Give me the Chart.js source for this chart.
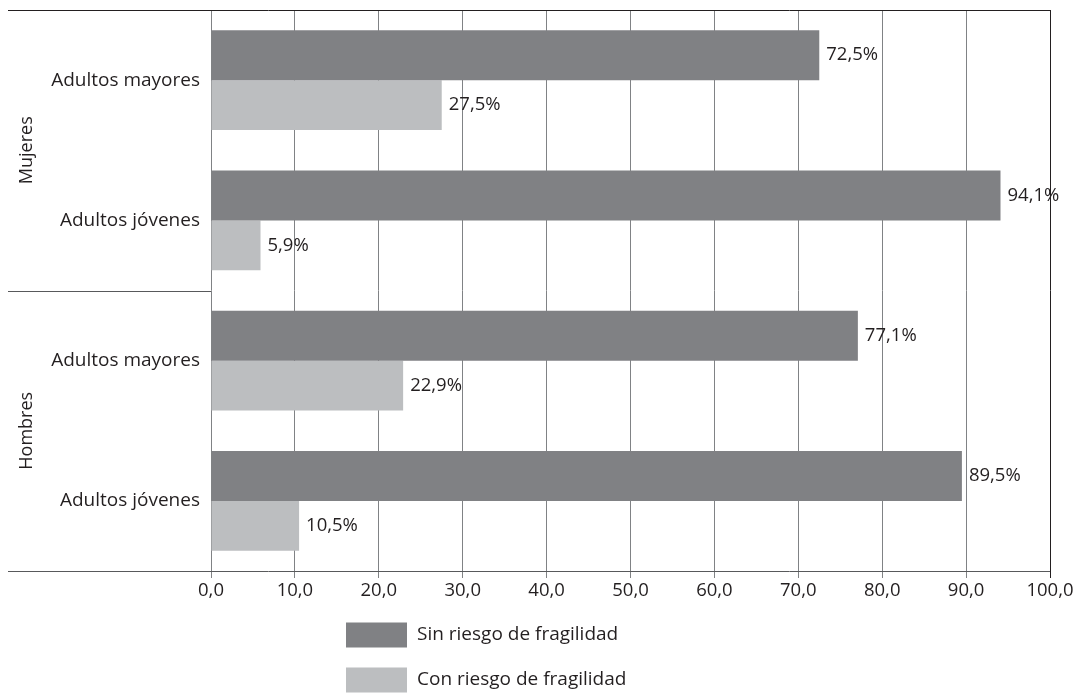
<!DOCTYPE html>
<html>
<head>
<meta charset="utf-8">
<script src="https://cdn.jsdelivr.net/npm/chart.js@4"></script>
<style>
  html, body { margin: 0; padding: 0; background: #ffffff; }
  #wrap { width: 1081px; height: 694px; position: relative; }
</style>
</head>
<body>
<div id="wrap"><canvas id="c" width="1081" height="694"></canvas></div>
<script>
const categories = ['Adultos mayores', 'Adultos jóvenes', 'Adultos mayores', 'Adultos jóvenes'];
const groups = ['Mujeres', 'Hombres'];
const seriesNames = ['Sin riesgo de fragilidad', 'Con riesgo de fragilidad'];
const sinRiesgo = [72.5, 94.1, 77.1, 89.5];
const conRiesgo = [27.5, 5.9, 22.9, 10.5];
const xTicks = [0, 10, 20, 30, 40, 50, 60, 70, 80, 90, 100];

const FONT = '"Open Sans", "Noto Sans", sans-serif';
const TEXT = '#231f20';
const DARK = '#808184';
const LIGHT = '#bcbec0';

const fmt = v => v.toFixed(1).replace('.', ',');

const decor = {
  id: 'decor',
  afterDatasetsDraw(chart) {
    const ctx = chart.ctx;
    const a = chart.chartArea;
    const y = chart.scales.y;
    ctx.save();
    // data labels
    ctx.font = '18.5px ' + FONT;
    ctx.fillStyle = TEXT;
    ctx.textAlign = 'left';
    ctx.textBaseline = 'middle';
    chart.data.datasets.forEach((ds, di) => {
      chart.getDatasetMeta(di).data.forEach((bar, i) => {
        ctx.fillText(fmt(ds.data[i]) + '%', bar.x + 7, bar.y);
      });
    });
    // frame lines
    ctx.lineWidth = 1;
    ctx.strokeStyle = '#231f20';
    ctx.beginPath();
    ctx.moveTo(8, Math.round(a.top) + 0.5);
    ctx.lineTo(a.right, Math.round(a.top) + 0.5);
    ctx.stroke();
    ctx.strokeStyle = '#58595b';
    ctx.beginPath();
    ctx.moveTo(8, Math.round(a.bottom) + 0.5);
    ctx.lineTo(a.right, Math.round(a.bottom) + 0.5);
    const mid = Math.round(y.getPixelForValue(1.5)) + 0.5;
    ctx.moveTo(8, mid);
    ctx.lineTo(a.left, mid);
    ctx.stroke();
    // group labels
    ctx.font = '18px ' + FONT;
    ctx.fillStyle = TEXT;
    ctx.textAlign = 'center';
    ctx.textBaseline = 'middle';
    groups.forEach((g, gi) => {
      const cy = y.getPixelForValue(gi * 2 + 0.5);
      ctx.save();
      ctx.translate(27, cy);
      ctx.rotate(-Math.PI / 2);
      ctx.fillText(g, 0, 0);
      ctx.restore();
    });
    // legend
    const lx = 346, lw = 61, lh = 25;
    const rows = [635, 680];
    ctx.font = '19px ' + FONT;
    ctx.textAlign = 'left';
    chart.data.datasets.forEach((ds, di) => {
      ctx.fillStyle = ds.backgroundColor;
      ctx.fillRect(lx, rows[di] - lh / 2, lw, lh);
      ctx.fillStyle = TEXT;
      ctx.fillText(ds.label, lx + lw + 10, rows[di]);
    });
    ctx.restore();
  }
};

new Chart(document.getElementById('c'), {
  type: 'bar',
  data: {
    labels: categories,
    datasets: [
      { label: seriesNames[0], data: sinRiesgo, backgroundColor: DARK },
      { label: seriesNames[1], data: conRiesgo, backgroundColor: LIGHT }
    ]
  },
  options: {
    indexAxis: 'y',
    responsive: false,
    animation: false,
    devicePixelRatio: 1,
    layout: { padding: { top: 10, right: 31, left: 0, bottom: 0 } },
    datasets: { bar: { categoryPercentage: 0.71, barPercentage: 1.0 } },
    plugins: { legend: { display: false }, tooltip: { enabled: false } },
    scales: {
      x: {
        min: 0, max: 100,
        afterBuildTicks: s => { s.ticks = xTicks.map(v => ({ value: v })); },
        afterFit: s => { s.height = 123; s.paddingLeft = 0; s.paddingRight = 0; },
        grid: {
          color: ctx => (ctx.tick && ctx.tick.value === 100) ? '#231f20' : '#808285',
          lineWidth: 1,
          tickLength: 7,
          drawTicks: true
        },
        border: { display: false },
        ticks: {
          color: TEXT,
          font: { family: FONT, size: 18.5 },
          padding: 2,
          maxRotation: 0,
          callback: v => fmt(v)
        }
      },
      y: {
        afterFit: s => { s.width = 211; s.paddingTop = 0; s.paddingBottom = 0; },
        grid: { display: false, drawTicks: false },
        border: { display: false },
        ticks: {
          color: TEXT,
          font: { family: FONT, size: 19 },
          padding: 11
        }
      }
    }
  },
  plugins: [decor]
});
</script>
</body>
</html>
